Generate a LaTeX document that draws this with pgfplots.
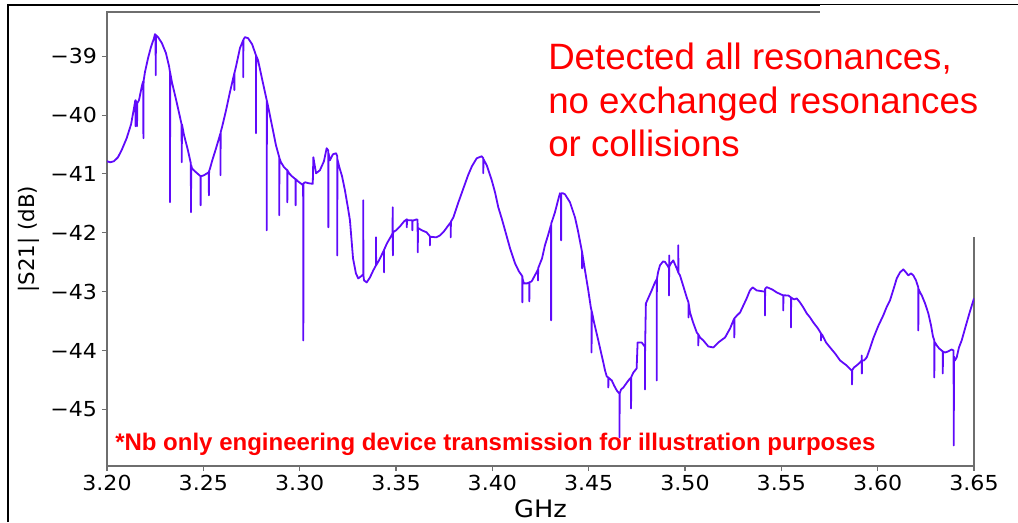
\documentclass[border=0pt]{standalone}
\usepackage{pgfplots}
\pgfplotsset{compat=1.18}
\usepackage{fontspec}
\setmainfont{DejaVu Sans}
\newfontfamily\tickfont[FakeStretch=1.07]{DejaVu Sans}
\newfontfamily\arialfont{Liberation Sans}
\definecolor{curve}{RGB}{95,10,250}
\definecolor{spine}{RGB}{110,110,110}
\begin{document}
\begin{tikzpicture}
\useasboundingbox (0,0) rectangle (763.5pt,391.5pt);
\draw[black, line width=1.5pt] (5.8pt,0pt) -- (5.8pt,387.8pt) -- (763.5pt,387.8pt);
\begin{axis}[
  at={(80.25pt,42pt)}, anchor=south west,
  scale only axis, width=650.25pt, height=340.5pt,
  xmin=3.2, xmax=3.65, ymin=-45.96, ymax=-38.25,
  axis line style={spine, line width=0.8pt},
  tick align=outside, tick pos=left,
  major tick length=3.75pt,
  every tick/.style={spine, line width=0.8pt},
  xtick={3.2,3.25,3.3,3.35,3.4,3.45,3.5,3.55,3.6,3.65},
  xticklabels={3.20,3.25,3.30,3.35,3.40,3.45,3.50,3.55,3.60,3.65},
  ytick={-45,-44,-43,-42,-41,-40,-39},
  yticklabels={−45,−44,−43,−42,−41,−40,−39},
  xticklabel style={font=\tickfont\fontsize{15.5}{17}\selectfont, anchor=base, inner sep=0pt, yshift=-14.6pt},
  yticklabel style={font=\tickfont\fontsize{15.5}{17}\selectfont, anchor=east, inner sep=0pt, xshift=-3.5pt},
  xlabel={GHz},
  xlabel style={font=\tickfont\fontsize{18}{21}\selectfont, at={(rel axis cs:0.5,0)}, anchor=base, inner sep=0pt, yshift=-38.25pt},
  ylabel={|S21| (dB)},
  ylabel style={font=\fontsize{16}{19}\selectfont, at={(rel axis cs:0,0.5)}, anchor=center, inner sep=0pt, yshift=58.5pt},
]
\addplot[curve, line width=1.35pt, line join=round] table {
3.2000 -40.785
3.2016 -40.802
3.2036 -40.785
3.2057 -40.717
3.2078 -40.581
3.2102 -40.394
3.2125 -40.156
3.2140 -39.884
3.2147 -39.748
3.2148 -40.190
3.2149 -39.748
3.2153 -39.816
3.2155 -39.816
3.2156 -40.190
3.2157 -39.800
3.2166 -39.748
3.2182 -39.493
3.2188 -39.425
3.2189 -40.394
3.2190 -39.420
3.2197 -39.272
3.2213 -39.034
3.2228 -38.847
3.2244 -38.694
3.2249 -38.626
3.2252 -38.643
3.2253 -39.323
3.2254 -38.643
3.2265 -38.677
3.2285 -38.779
3.2306 -38.949
3.2322 -39.170
3.2327 -39.272
3.2327 -41.482
3.2328 -39.280
3.2337 -39.442
3.2358 -39.731
3.2379 -40.037
3.2387 -40.156
3.2388 -40.802
3.2389 -40.160
3.2400 -40.343
3.2420 -40.598
3.2435 -40.819
3.2436 -41.652
3.2437 -40.850
3.2441 -40.904
3.2462 -40.972
3.2486 -41.040
3.2486 -41.533
3.2487 -41.040
3.2503 -41.023
3.2528 -40.972
3.2529 -41.363
3.2530 -40.950
3.2535 -40.904
3.2545 -40.785
3.2566 -40.564
3.2589 -40.309
3.2589 -41.023
3.2590 -40.290
3.2597 -40.207
3.2618 -39.918
3.2638 -39.612
3.2661 -39.289
3.2661 -39.578
3.2662 -39.280
3.2670 -39.170
3.2690 -38.864
3.2707 -38.728
3.2707 -39.357
3.2708 -38.720
3.2716 -38.677
3.2732 -38.694
3.2753 -38.796
3.2773 -38.983
3.2773 -40.309
3.2774 -38.990
3.2784 -39.068
3.2804 -39.374
3.2829 -39.748
3.2829 -41.958
3.2830 -39.760
3.2836 -39.850
3.2856 -40.173
3.2877 -40.513
3.2894 -40.717
3.2894 -41.703
3.2895 -40.730
3.2903 -40.802
3.2919 -40.887
3.2936 -40.938
3.2936 -41.482
3.2937 -40.940
3.2945 -40.989
3.2960 -41.040
3.2979 -41.091
3.2979 -41.533
3.2980 -41.090
3.2991 -41.125
3.3012 -41.176
3.3018 -41.193
3.3019 -43.828
3.3020 -41.160
3.3028 -41.142
3.3048 -41.159
3.3068 -41.168
3.3071 -40.717
3.3085 -40.989
3.3105 -40.938
3.3126 -40.785
3.3140 -40.564
3.3148 -40.598
3.3149 -41.907
3.3150 -40.650
3.3157 -40.768
3.3173 -40.666
3.3189 -40.649
3.3195 -40.700
3.3195 -42.383
3.3196 -40.750
3.3206 -40.887
3.3220 -41.040
3.3235 -41.278
3.3251 -41.584
3.3261 -41.788
3.3277 -42.434
3.3292 -42.689
3.3304 -42.774
3.3318 -42.740
3.3330 -42.706
3.3330 -41.448
3.3331 -42.720
3.3334 -42.808
3.3348 -42.842
3.3365 -42.757
3.3382 -42.638
3.3396 -42.553
3.3396 -42.077
3.3397 -42.550
3.3412 -42.468
3.3432 -42.332
3.3437 -42.298
3.3438 -42.672
3.3438 -42.290
3.3453 -42.179
3.3474 -42.060
3.3482 -42.009
3.3483 -41.567
3.3484 -42.383
3.3485 -41.990
3.3500 -41.958
3.3521 -41.890
3.3542 -41.805
3.3556 -41.771
3.3556 -41.907
3.3557 -41.770
3.3562 -41.788
3.3573 -41.788
3.3585 -41.788
3.3585 -41.958
3.3586 -41.790
3.3593 -41.788
3.3607 -41.771
3.3612 -41.780
3.3613 -42.332
3.3614 -41.920
3.3617 -41.924
3.3635 -41.958
3.3659 -41.992
3.3676 -42.060
3.3676 -42.213
3.3677 -42.070
3.3687 -42.069
3.3708 -42.077
3.3729 -42.043
3.3749 -41.975
3.3772 -41.873
3.3784 -41.822
3.3784 -42.077
3.3785 -41.810
3.3798 -41.737
3.3822 -41.499
3.3848 -41.261
3.3874 -41.023
3.3894 -40.870
3.3919 -40.734
3.3945 -40.700
3.3953 -40.734
3.3953 -40.989
3.3954 -40.750
3.3971 -40.853
3.3997 -41.108
3.4014 -41.312
3.4031 -41.567
3.4050 -41.771
3.4066 -41.958
3.4092 -42.264
3.4118 -42.519
3.4138 -42.655
3.4149 -42.706
3.4156 -42.740
3.4156 -43.182
3.4157 -42.780
3.4164 -42.859
3.4180 -42.859
3.4192 -42.842
3.4192 -43.165
3.4193 -42.840
3.4204 -42.825
3.4221 -42.723
3.4237 -42.621
3.4237 -42.808
3.4238 -42.600
3.4258 -42.434
3.4273 -42.213
3.4289 -42.043
3.4304 -41.873
3.4305 -43.488
3.4306 -41.840
3.4315 -41.754
3.4325 -41.652
3.4341 -41.448
3.4351 -41.329
3.4356 -41.346
3.4357 -42.128
3.4357 -41.330
3.4367 -41.329
3.4377 -41.346
3.4403 -41.482
3.4429 -41.737
3.4444 -41.958
3.4464 -42.298
3.4465 -42.315
3.4466 -42.604
3.4466 -42.330
3.4481 -42.638
3.4498 -42.978
3.4512 -43.284
3.4515 -43.318
3.4515 -44.032
3.4516 -43.330
3.4528 -43.522
3.4550 -43.828
3.4576 -44.202
3.4585 -44.338
3.4594 -44.440
3.4602 -44.457
3.4602 -44.627
3.4603 -44.460
3.4620 -44.508
3.4632 -44.593
3.4646 -44.678
3.4659 -44.729
3.4660 -44.729
3.4660 -45.477
3.4661 -44.730
3.4668 -44.661
3.4680 -44.627
3.4706 -44.508
3.4720 -44.457
3.4720 -44.984
3.4721 -44.450
3.4732 -44.372
3.4749 -44.304
3.4754 -43.862
3.4775 -43.862
3.4787 -43.913
3.4792 -43.930
3.4792 -44.661
3.4793 -43.930
3.4797 -43.199
3.4827 -42.978
3.4844 -42.842
3.4853 -42.791
3.4853 -44.508
3.4854 -42.790
3.4860 -42.672
3.4870 -42.553
3.4886 -42.485
3.4896 -42.494
3.4912 -42.570
3.4917 -42.604
3.4917 -43.063
3.4918 -42.383
3.4919 -42.570
3.4927 -42.519
3.4939 -42.468
3.4957 -42.604
3.4965 -42.672
3.4965 -42.213
3.4966 -42.680
3.4974 -42.723
3.4990 -42.893
3.5009 -43.097
3.5018 -43.182
3.5018 -43.437
3.5019 -43.200
3.5026 -43.352
3.5042 -43.522
3.5061 -43.692
3.5069 -43.726
3.5069 -43.913
3.5070 -43.730
3.5078 -43.777
3.5095 -43.828
3.5121 -43.930
3.5147 -43.947
3.5173 -43.862
3.5208 -43.777
3.5234 -43.624
3.5251 -43.488
3.5256 -43.454
3.5256 -43.777
3.5257 -43.450
3.5270 -43.403
3.5286 -43.352
3.5320 -43.114
3.5337 -42.978
3.5351 -42.927
3.5372 -42.978
3.5406 -42.995
3.5415 -42.995
3.5415 -43.403
3.5416 -42.950
3.5424 -42.922
3.5452 -42.961
3.5476 -43.012
3.5498 -43.046
3.5510 -43.063
3.5510 -43.318
3.5511 -43.060
3.5524 -43.063
3.5536 -43.063
3.5550 -43.097
3.5550 -43.607
3.5551 -43.100
3.5566 -43.131
3.5580 -43.114
3.5597 -43.182
3.5614 -43.267
3.5632 -43.369
3.5649 -43.437
3.5666 -43.522
3.5690 -43.624
3.5706 -43.709
3.5706 -43.828
3.5707 -43.720
3.5711 -43.726
3.5732 -43.862
3.5753 -43.947
3.5779 -44.049
3.5805 -44.168
3.5839 -44.253
3.5865 -44.338
3.5867 -44.338
3.5867 -44.576
3.5868 -44.330
3.5877 -44.287
3.5891 -44.253
3.5908 -44.202
3.5917 -44.168
3.5917 -44.083
3.5918 -44.389
3.5918 -44.170
3.5929 -44.168
3.5943 -44.117
3.5960 -43.964
3.5977 -43.794
3.6002 -43.590
3.6029 -43.403
3.6048 -43.250
3.6064 -43.148
3.6085 -42.927
3.6099 -42.774
3.6116 -42.672
3.6133 -42.621
3.6147 -42.672
3.6159 -42.723
3.6173 -42.689
3.6185 -42.723
3.6199 -42.808
3.6209 -42.910
3.6211 -42.927
3.6211 -43.658
3.6212 -42.950
3.6220 -43.012
3.6229 -43.063
3.6246 -43.199
3.6263 -43.369
3.6277 -43.573
3.6287 -43.760
3.6294 -43.828
3.6294 -44.457
3.6295 -43.850
3.6307 -43.913
3.6319 -43.964
3.6332 -43.998
3.6338 -44.015
3.6338 -44.389
3.6339 -44.020
3.6350 -44.032
3.6365 -44.015
3.6384 -43.981
3.6394 -43.998
3.6395 -45.613
3.6396 -44.100
3.6401 -44.168
3.6410 -44.117
3.6422 -43.947
3.6436 -43.828
3.6458 -43.573
3.6479 -43.335
3.6500 -43.114
};
\end{axis}
\fill[white] (615pt,213.75pt) rectangle (763.5pt,387.8pt);
\node[anchor=base west, inner sep=0pt, text=red, font=\arialfont\fontsize{27.5}{30}\selectfont] at (411pt,339pt) {Detected all resonances,};
\node[anchor=base west, inner sep=0pt, text=red, font=\arialfont\fontsize{27.5}{30}\selectfont] at (411pt,306.5pt) {no exchanged resonances};
\node[anchor=base west, inner sep=0pt, text=red, font=\arialfont\fontsize{27.5}{30}\selectfont] at (411pt,274pt) {or collisions};
\node[anchor=base west, inner sep=0pt, text=red, font=\arialfont\bfseries\fontsize{18}{20}\selectfont] at (86.25pt,53.5pt) {*Nb only engineering device transmission for illustration purposes};
\end{tikzpicture}
\end{document}
